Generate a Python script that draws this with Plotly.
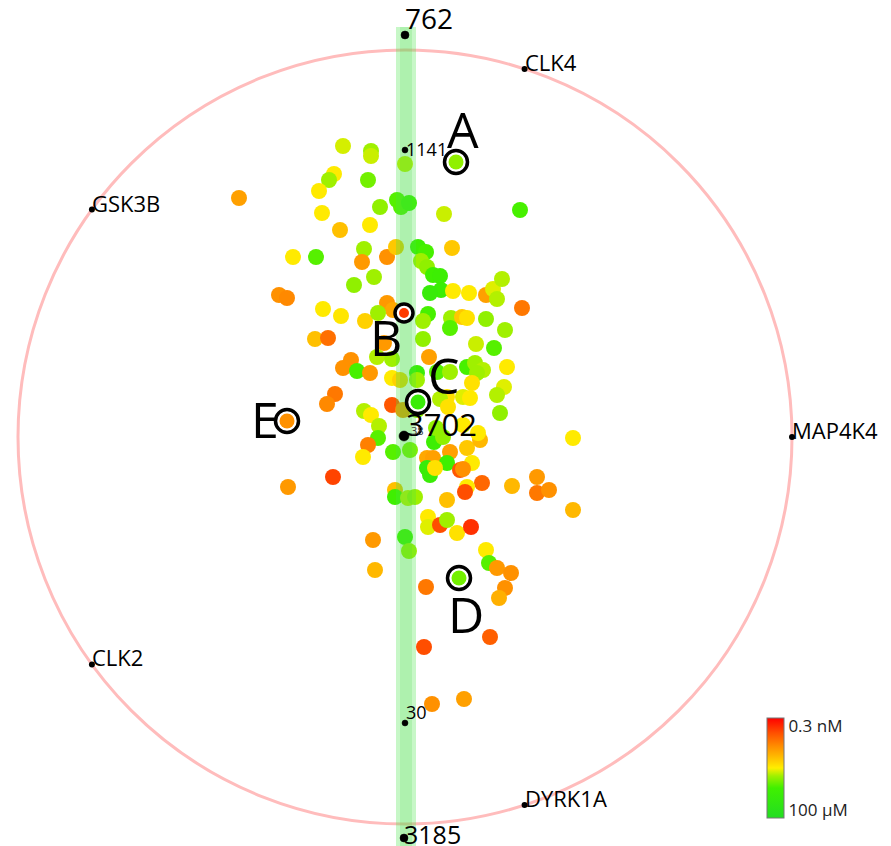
import math
import plotly.graph_objects as go

# ---------------- data ----------------
# compound map coordinates (map units; reference circle radius = 387)
CMP_X = [-62, -34, -34, 0, -71, -76, -86, -37, -166, -83, -8, -4, 4, -25, 39, 115, -65, -35, -112, -89,
         -41, -43, -18, -9, 13, 21, 16, 22, 47, -31, -51, 28, 35, 36, 25, 48, 64, 81, 88, 97,
         92, 117, -126, -118, -82, -64, -40, -18, -12, -27, 23, 18, 46, 45, 57, 62, 81, 100, 71, 89,
         -90, -77, 18, -21, -28, -13, -54, -62, -48, -35, 24, 12, -13, -5, 12, 32, 45, 62, 70, 78,
         72, 102, 67, 99, 92, 58, 65, 42, 35, 43, 95, -70, -78, -41, -34, -13, -2, 12, -26, -27,
         -37, -42, -12, 5, 29, 38, 45, 62, 75, 73, 58, 22, 28, 22, 25, 42, 30, 67, 55, 58,
         77, 62, 60, 42, 107, 132, 132, 144, 168, 168, -72, -117, -10, -10, 3, 10, 23, 23, 35, 42,
         52, 66, 0, -32, 31, 4, -30, 81, 84, 92, 106, 100, 94, 21, 85, 19, 27, 59]
CMP_Y = [291, 286, 281, 273, 263, 257, 246, 257, 239, 224, 237, 230, 234, 230, 223, 227, 207, 212, 180, 180,
         188, 175, 180, 190, 190, 185, 176, 170, 189, 160, 152, 162, 161, 147, 144, 146, 144, 142, 148, 158,
         138, 129, 142, 139, 128, 121, 116, 134, 127, 124, 123, 116, 119, 109, 120, 119, 118, 107, 93, 89,
         98, 99, 98, 94, 80, 78, 77, 69, 66, 64, 80, 64, 59, 57, 57, 65, 65, 70, 74, 67,
         64, 70, 54, 50, 42, 40, 39, 40, 38, 30, 24, 43, 33, 26, 22, 32, 27, 27, 11, -1,
         -8, -20, -15, -13, -5, 0, -15, -11, -3, 4, 12, -21, -21, -31, -38, -26, -31, -26, -33, -32,
         -46, -50, -55, -63, -49, -40, -56, -53, -1, -73, -40, -50, -53, -60, -61, -60, -80, -90, -88, -83,
         -96, -90, -100, -103, 9, -114, -133, -113, -126, -131, -136, -151, -161, -150, -200, -210, -267, -262]
# potency (pIC50) of each compound
CMP_P = [6.55, 6.3, 6.5, 6.5, 6.8, 6.3, 6.8, 6.0, 7.7, 6.8, 5.8, 5.8, 5.6, 6.2, 6.5, 5.7, 7.3, 6.8, 6.8, 5.8,
         6.3, 7.8, 7.9, 7.2, 5.5, 5.7, 6.3, 6.2, 7.2, 6.3, 6.2, 5.6, 5.5, 5.4, 5.2, 6.8, 6.8, 7.7, 6.6, 6.4,
         6.4, 8.2, 7.9, 8.0, 6.8, 6.85, 7.1, 7.8, 7.6, 6.3, 5.7, 6.3, 6.3, 5.8, 7.2, 6.9, 6.2, 6.3, 6.5, 5.8,
         7.3, 8.3, 6.2, 7.8, 6.4, 6.3, 7.9, 7.9, 5.7, 7.8, 7.7, 5.4, 6.8, 7.1, 6.3, 5.8, 6.3, 5.7, 6.3, 6.4,
         6.3, 6.8, 6.9, 6.6, 6.4, 6.6, 6.8, 6.9, 6.4, 6.9, 6.2, 8.2, 8.0, 6.4, 6.8, 8.6, 7.9, 6.2, 6.4, 5.8,
         8.1, 6.8, 5.8, 6.1, 5.5, 6.2, 7.7, 7.2, 7.4, 6.8, 6.8, 7.6, 7.7, 5.2, 5.3, 5.6, 6.9, 6.8, 8.6, 7.9,
         8.4, 6.8, 8.7, 7.3, 7.4, 7.8, 8.2, 7.9, 6.8, 7.4, 8.8, 7.8, 7.3, 5.6, 6.5, 6.3, 6.8, 6.6, 8.7, 6.3,
         6.9, 9.0, 5.6, 7.8, 6.2, 6.3, 7.4, 6.8, 5.8, 7.8, 7.9, 7.9, 7.5, 8.2, 8.5, 8.7, 7.9, 7.7]

# highlighted compounds
HL_NAMES = ["A", "B", "C", "D", "E"]
HL_X = [51, -1, 13, 54, -118]
HL_Y = [275, 124, 35, -141, 16]
HL_P = [6.2, 8.9, 5.3, 6.0, 7.9]

# reference kinases on the circle (angle in degrees)
KIN_NAMES = ["CLK4", "GSK3B", "MAP4K4", "CLK2", "DYRK1A"]
KIN_ANGLE = [72, 144, 0, 216, 288]
R_MAP = 387

# labelled compounds on the vertical axis
REF_NAMES = ["762", "1141", "3702", "30", "3185"]
REF_X = [0, 0, -1, 0, -1]
REF_Y = [402, 287, 1, -286, -401]

CB_TICKVALS = [9.06, 4.42]
CB_TICKTEXT = ["0.3 nM", "100 µM"]
P_MIN, P_MAX = 4.0, 9.5

# ---------------- figure ----------------
FONT = "Open Sans, Noto Sans, sans-serif"
colorscale = [[0.0, "#22dd22"], [0.30, "#40f000"], [0.42, "#a0f000"], [0.5, "#ffee00"],
              [0.6, "#ffc000"], [0.72, "#ff8c00"], [0.85, "#ff5000"], [1.0, "#ff0000"]]

W, H = 891, 846
PAGE_OFF = 8          # page body margin of the browser
CX, CY = 405, 437     # where the map origin sits on the page
X_RANGE = [PAGE_OFF - CX, PAGE_OFF - CX + W]
Y_RANGE = [CY - PAGE_OFF - H, CY - PAGE_OFF]

fig = go.Figure()

fig.add_trace(go.Scatter(
    x=CMP_X, y=CMP_Y, mode="markers", hoverinfo="skip",
    marker=dict(size=16, color=CMP_P, colorscale=colorscale, cmin=P_MIN, cmax=P_MAX,
                opacity=1, line=dict(width=0),
                colorbar=dict(thickness=17, thicknessmode="pixels", len=100, lenmode="pixels",
                              x=(767 - PAGE_OFF) / W, xanchor="left",
                              y=1 - (718 - PAGE_OFF) / H, yanchor="top",
                              xpad=0, ypad=0, outlinewidth=1, outlinecolor="#777777",
                              tickvals=CB_TICKVALS, ticktext=CB_TICKTEXT, ticks="",
                              tickfont=dict(size=17, color="#222222", family=FONT))),
    showlegend=False))

# vertical highlight band along the map axis
BAND_OUT = (-9, 11)
BAND_IN = (-5, 7)
BAND_Y = (-440, 410)
for (b0, b1), col in [(BAND_OUT, "rgba(70,230,70,0.30)"), (BAND_IN, "rgba(60,215,60,0.18)")]:
    fig.add_trace(go.Scatter(x=[b0, b1, b1, b0, b0], y=[BAND_Y[0], BAND_Y[0], BAND_Y[1], BAND_Y[1], BAND_Y[0]],
                             mode="lines", fill="toself", fillcolor=col, line=dict(width=0),
                             hoverinfo="skip", showlegend=False))

# rings around highlighted compounds
ring_sizes = [23 if n != "B" else 18 for n in HL_NAMES]
fig.add_trace(go.Scatter(x=HL_X, y=HL_Y, mode="markers", hoverinfo="skip", showlegend=False,
                         marker=dict(size=ring_sizes, color="white", opacity=1,
                                     line=dict(color="#000000", width=3.5))))
inner_sizes = [s - 8 for s in ring_sizes]
fig.add_trace(go.Scatter(x=HL_X, y=HL_Y, mode="markers", hoverinfo="skip", showlegend=False,
                         marker=dict(size=inner_sizes, color=HL_P, colorscale=colorscale, opacity=1,
                                     cmin=P_MIN, cmax=P_MAX, line=dict(width=0))))

# kinase reference points
kx = [R_MAP * math.cos(math.radians(a)) for a in KIN_ANGLE]
ky = [R_MAP * math.sin(math.radians(a)) for a in KIN_ANGLE]
fig.add_trace(go.Scatter(x=kx, y=ky, mode="markers", hoverinfo="skip", showlegend=False,
                         marker=dict(size=6, color="black", opacity=1)))

# labelled compounds on the axis
ref_sizes = [8, 6, 10, 6, 8]
fig.add_trace(go.Scatter(x=REF_X, y=REF_Y, mode="markers", hoverinfo="skip", showlegend=False,
                         marker=dict(size=ref_sizes, color="black", opacity=1,
                                     line=dict(color="black", width=0.5))))

annotations = []
for n, x, y in zip(KIN_NAMES, kx, ky):
    annotations.append(dict(x=x, y=y, text=n, showarrow=False, xanchor="left", yanchor="middle",
                            xshift=-2, yshift=7, font=dict(size=22, color="black", family=FONT)))

ref_font = [28, 18, 31, 18, 25]
ref_shift = [(-2, 17), (-1, 1), (0, 12), (-1, 11), (-2, 4)]
for n, x, y, fs, (dx, dy) in zip(REF_NAMES, REF_X, REF_Y, ref_font, ref_shift):
    annotations.append(dict(x=x, y=y, text=n, showarrow=False, xanchor="left", yanchor="middle",
                            xshift=dx, yshift=dy, font=dict(size=fs, color="black", family=FONT)))
# tiny overlapping label next to 3702
annotations.append(dict(x=REF_X[2], y=REF_Y[2], text="38", showarrow=False, xanchor="left",
                        yanchor="middle", xshift=5, yshift=6,
                        font=dict(size=11, color="#333333", family=FONT)))

letter_shift = [(7, 33), (-18, -24), (26, 27), (7, -36), (-22, 2)]
for n, x, y, (dx, dy) in zip(HL_NAMES, HL_X, HL_Y, letter_shift):
    annotations.append(dict(x=x, y=y, text=n, showarrow=False, xanchor="center", yanchor="middle",
                            xshift=dx, yshift=dy, font=dict(size=50, color="black", family=FONT)))

shapes = [
    dict(type="circle", xref="x", yref="y", x0=-R_MAP, x1=R_MAP, y0=-R_MAP, y1=R_MAP,
         line=dict(color="#ffbcbc", width=3), layer="below"),
]

fig.update_layout(
    width=W, height=H, margin=dict(l=0, r=0, t=0, b=0),
    paper_bgcolor="white", plot_bgcolor="white",
    xaxis=dict(range=X_RANGE, visible=False, fixedrange=True),
    yaxis=dict(range=Y_RANGE, visible=False, fixedrange=True),
    shapes=shapes, annotations=annotations, showlegend=False,
)

fig.write_html("out.html")
